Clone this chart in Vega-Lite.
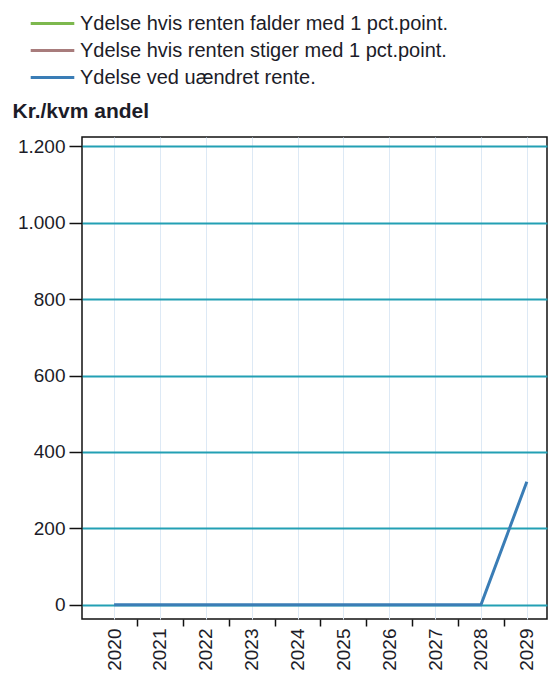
{
  "$schema": "https://vega.github.io/schema/vega-lite/v6.json",
  "autosize": {"type": "none"},
  "padding": {"left": 82, "top": 137, "right": 2, "bottom": 56},
  "width": 465,
  "height": 482,
  "background": "white",
  "config": {
    "font": "Liberation Sans",
    "view": {"stroke": "#111", "strokeWidth": 1.5}
  },
  "data": {
    "values": [
      {"year": 2020, "value": 0, "series": "Ydelse ved uændret rente."},
      {"year": 2021, "value": 0, "series": "Ydelse ved uændret rente."},
      {"year": 2022, "value": 0, "series": "Ydelse ved uændret rente."},
      {"year": 2023, "value": 0, "series": "Ydelse ved uændret rente."},
      {"year": 2024, "value": 0, "series": "Ydelse ved uændret rente."},
      {"year": 2025, "value": 0, "series": "Ydelse ved uændret rente."},
      {"year": 2026, "value": 0, "series": "Ydelse ved uændret rente."},
      {"year": 2027, "value": 0, "series": "Ydelse ved uændret rente."},
      {"year": 2028, "value": 0, "series": "Ydelse ved uændret rente."},
      {"year": 2029, "value": 322, "series": "Ydelse ved uændret rente."}
    ]
  },
  "layer": [
    {
      "mark": {"type": "line", "strokeWidth": 3, "clip": true},
      "encoding": {
        "x": {
          "field": "year",
          "type": "quantitative",
          "scale": {"domain": [2019.3, 2029.44], "nice": false, "zero": false},
          "axis": {
            "orient": "bottom",
            "values": [2020.5, 2021.5, 2022.5, 2023.5, 2024.5, 2025.5, 2026.5, 2027.5, 2028.5],
            "labels": false,
            "grid": false,
            "domain": false,
            "ticks": true,
            "tickColor": "#111",
            "tickWidth": 1.5,
            "tickSize": 7,
            "title": null
          }
        },
        "y": {
          "field": "value",
          "type": "quantitative",
          "scale": {"domain": [-37, 1224], "nice": false, "zero": false},
          "axis": {
            "values": [0, 200, 400, 600, 800, 1000, 1200],
            "labelExpr": "replace(format(datum.value, ','), ',', '.')",
            "labelFontSize": 19,
            "labelColor": "#1c1c28",
            "labelPadding": 4,
            "tickSize": 13,
            "tickColor": "#111",
            "tickWidth": 1.5,
            "domain": false,
            "grid": true,
            "gridColor": "#23a0b4",
            "gridWidth": 2,
            "title": "Kr./kvm andel",
            "titleAngle": 0,
            "titleX": -70,
            "titleY": -20,
            "titleAlign": "left",
            "titleBaseline": "alphabetic",
            "titleFontSize": 21,
            "titleFontWeight": "bold",
            "titleColor": "#1c1c28"
          }
        },
        "color": {
          "field": "series",
          "type": "nominal",
          "scale": {
            "domain": ["Ydelse hvis renten falder med 1 pct.point.", "Ydelse hvis renten stiger med 1 pct.point.", "Ydelse ved uændret rente."],
            "range": ["#7db84e", "#a87c7c", "#3a7db6"]
          },
          "legend": {
            "orient": "none",
            "legendX": -42,
            "legendY": -126,
            "title": null,
            "symbolType": "M-2,0H2",
            "symbolSize": 475,
            "symbolStrokeWidth": 3,
            "labelFontSize": 20,
            "labelColor": "#1c1c28",
            "labelOffset": 15,
            "labelLimit": 600,
            "rowPadding": 4
          }
        }
      }
    },
    {
      "mark": {"type": "rule", "opacity": 0},
      "encoding": {
        "x": {
          "field": "year",
          "type": "quantitative",
          "axis": {
            "orient": "bottom",
            "values": [2020, 2021, 2022, 2023, 2024, 2025, 2026, 2027, 2028, 2029],
            "format": "d",
            "labelAngle": -90,
            "labelAlign": "right",
            "labelBaseline": "middle",
            "labelFontSize": 19,
            "labelColor": "#1c1c28",
            "labelPadding": 9,
            "labelDy": -3,
            "ticks": false,
            "domain": false,
            "grid": true,
            "gridColor": "#dde9f5",
            "gridWidth": 1,
            "title": null,
            "zindex": 0
          }
        }
      }
    }
  ],
  "resolve": {"axis": {"x": "independent"}}
}
